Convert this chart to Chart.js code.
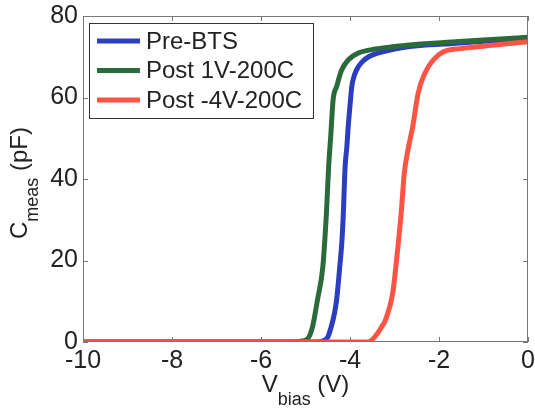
<!DOCTYPE html>
<html>
<head>
<meta charset="utf-8">
<script src="https://cdn.jsdelivr.net/npm/chart.js@4"></script>
<style>
  html, body { margin: 0; padding: 0; background: #fff; }
  #wrap { width: 535px; height: 410px; }
</style>
</head>
<body>
<div id="wrap"><canvas id="chart"></canvas></div>
<script>
// series data (V in volts, C in pF)
const seriesNames = ["Pre-BTS", "Post 1V-200C", "Post -4V-200C"];
const seriesColors = ["#2c3dbf", "#2b6a3a", "#fd5443"];

const preX = [-10, -4.75, -4.6, -4.5, -4.42, -4.35, -4.3, -4.23, -4.18, -4.15, -4.11, -4.07, -4.04, -4.0, -3.96, -3.9, -3.81, -3.7, -3.58, -3.4, -3.27, -3.0, -2.66, -2.3, -1.9, -1.0, 0];
const preY = [0, 0, 0.3, 1.2, 3.8, 7, 10.4, 18.5, 25, 31.6, 43, 48, 52.9, 58, 62.7, 65.5, 67.6, 69, 70, 70.8, 71.2, 71.9, 72.5, 72.9, 73.1, 73.8, 74.5];

const post1X = [-10, -5.25, -5.1, -4.95, -4.84, -4.73, -4.61, -4.53, -4.48, -4.43, -4.38, -4.3, -4.19, -4.04, -3.81, -3.43, -3.0, -2.66, -1.9, -1.0, 0];
const post1Y = [0, 0, 0.2, 0.8, 3.8, 10.4, 18.5, 31.6, 43, 51, 59.4, 62.7, 66.7, 69.2, 70.9, 71.9, 72.5, 72.9, 73.5, 74.1, 74.8];

const post4X = [-10, -3.6, -3.54, -3.43, -3.3, -3.2, -3.04, -2.97, -2.85, -2.78, -2.7, -2.59, -2.47, -2.32, -2.13, -1.9, -1.52, -1.0, -0.75, 0];
const post4Y = [0, 0, 0.2, 1.4, 3.5, 5.5, 12, 18.5, 31.6, 41.4, 47, 52.9, 61, 65.9, 69.2, 71.2, 72, 72.6, 72.9, 73.7];

const xTicks = [-10, -8, -6, -4, -2, 0];
const yTicks = [0, 20, 40, 60, 80];

function pts(xs, ys) {
  return xs.map((x, i) => ({ x: x, y: ys[i] }));
}

const FONT = "'Liberation Sans', Arial, sans-serif";

// draws the box, inward ticks, legend and axis titles with subscripts
const matlabLook = {
  id: "matlabLook",
  afterDatasetsDraw(chart) {
    const ctx = chart.ctx;
    const a = chart.chartArea;
    const xs = chart.scales.x, ys = chart.scales.y;
    ctx.save();
    ctx.strokeStyle = "#777";
    ctx.lineWidth = 1;
    ctx.strokeRect(a.left + 0.5, a.top + 0.5, a.right - a.left - 1, a.bottom - a.top - 1);
    ctx.beginPath();
    xTicks.forEach(v => {
      const px = Math.round(xs.getPixelForValue(v)) + 0.5;
      ctx.moveTo(px, a.bottom); ctx.lineTo(px, a.bottom - 5);
      ctx.moveTo(px, a.top); ctx.lineTo(px, a.top + 5);
    });
    yTicks.forEach(v => {
      const py = Math.round(ys.getPixelForValue(v)) + 0.5;
      ctx.moveTo(a.left, py); ctx.lineTo(a.left + 5, py);
      ctx.moveTo(a.right, py); ctx.lineTo(a.right - 5, py);
    });
    ctx.stroke();

    // legend
    ctx.fillStyle = "#fff";
    ctx.fillRect(89.5, 23.5, 224, 95);
    ctx.strokeStyle = "#333";
    ctx.strokeRect(89.5, 23.5, 224, 95);
    ctx.font = "24px " + FONT;
    ctx.textBaseline = "middle";
    chart.data.datasets.forEach((ds, i) => {
      const y = 41 + i * 29.5;
      ctx.strokeStyle = ds.borderColor;
      ctx.lineWidth = 5;
      ctx.beginPath();
      ctx.moveTo(97, y); ctx.lineTo(140, y);
      ctx.stroke();
      ctx.fillStyle = "#222";
      ctx.fillText(ds.label, 146, y + 1);
    });

    // x title: V_bias (V)
    ctx.fillStyle = "#222";
    ctx.textBaseline = "alphabetic";
    const big = "24px " + FONT, small = "18px " + FONT;
    ctx.font = big;
    const wV = ctx.measureText("V").width, wP = ctx.measureText(" (V)").width;
    ctx.font = small;
    const wS = ctx.measureText("bias").width;
    let cx = (a.left + a.right) / 2 - (wV + wS + wP) / 2;
    ctx.font = big; ctx.fillText("V", cx, 392);
    ctx.font = small; ctx.fillText("bias", cx + wV, 405);
    ctx.font = big; ctx.fillText(" (V)", cx + wV + wS, 392);

    // y title: C_meas (pF)
    ctx.save();
    ctx.translate(27, 183);
    ctx.rotate(-Math.PI / 2);
    ctx.font = big;
    const wC = ctx.measureText("C").width, wF = ctx.measureText(" (pF)").width;
    ctx.font = small;
    const wM = ctx.measureText("meas").width;
    let cy = -(wC + wM + wF) / 2;
    ctx.font = big; ctx.fillText("C", cy, 0);
    ctx.font = small; ctx.fillText("meas", cy + wC, 11);
    ctx.font = big; ctx.fillText(" (pF)", cy + wC + wM, 0);
    ctx.restore();
    ctx.restore();
  }
};

const canvasRef = document.getElementById("chart");

const datasets = [
  { label: seriesNames[0], data: pts(preX, preY), borderColor: seriesColors[0], order: 3 },
  { label: seriesNames[1], data: pts(post1X, post1Y), borderColor: seriesColors[1], order: 2 },
  { label: seriesNames[2], data: pts(post4X, post4Y), borderColor: seriesColors[2], order: 1 },
].map(d => Object.assign(d, {
  borderWidth: 5,
  pointRadius: 0,
  fill: false,
  cubicInterpolationMode: "monotone",
  borderCapStyle: "round",
  borderJoinStyle: "round",
}));

let myChart = new Chart(canvasRef, {
  type: "line",
  data: { datasets: datasets },
  options: {
    responsive: true,
    maintainAspectRatio: false,
    animation: false,
    layout: { padding: { top: 16, right: 7, left: 0, bottom: 0 } },
    plugins: { legend: { display: false }, tooltip: { enabled: false } },
    scales: {
      x: {
        type: "linear",
        min: -10, max: 0,
        afterBuildTicks: s => { s.ticks = xTicks.map(v => ({ value: v })); },
        afterFit: s => { s.height = 68; s.paddingRight = 0; s.paddingLeft = 0; },
        grid: { display: false, drawTicks: false },
        border: { display: false },
        ticks: { color: "#222", font: { family: FONT, size: 25 }, padding: 4, maxRotation: 0 },
      },
      y: {
        min: 0, max: 80,
        afterBuildTicks: s => { s.ticks = yTicks.map(v => ({ value: v })); },
        afterFit: s => { s.width = 83; s.paddingTop = 0; s.paddingBottom = 0; },
        grid: { display: false, drawTicks: false },
        border: { display: false },
        ticks: { color: "#222", font: { family: FONT, size: 25 }, padding: 5 },
      },
    },
  },
  plugins: [matlabLook],
});
</script>
</body>
</html>
